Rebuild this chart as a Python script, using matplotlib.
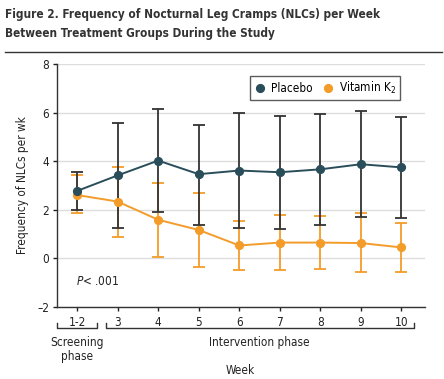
import matplotlib
matplotlib.use("Agg")
import matplotlib.pyplot as plt
from matplotlib.lines import Line2D

weeks = ["1-2", "3", "4", "5", "6", "7", "8", "9", "10"]
placebo_mean = [2.77, 3.41, 4.02, 3.46, 3.61, 3.54, 3.66, 3.87, 3.74]
placebo_hi = [3.55, 5.58, 6.13, 5.50, 5.97, 5.87, 5.95, 6.05, 5.83]
placebo_lo = [2.00, 1.26, 1.88, 1.38, 1.25, 1.22, 1.38, 1.71, 1.65]
vitk_mean = [2.60, 2.33, 1.58, 1.16, 0.52, 0.64, 0.64, 0.62, 0.44]
vitk_hi = [3.43, 3.77, 3.11, 2.70, 1.53, 1.79, 1.73, 1.84, 1.45]
vitk_lo = [1.84, 0.89, 0.05, -0.36, -0.49, -0.49, -0.47, -0.58, -0.56]
yticks = [-2, 0, 2, 4, 6, 8]

plt.rcParams['font.family'] = ["DejaVu Sans"]
plt.rcParams['font.stretch'] = 'condensed'

C_PL = "#2a4d5a"
C_VK = "#f39c2a"
C_ERR = "#333333"
FS = 8.5

fig = plt.figure(figsize=(4.44, 3.79), dpi=100)
ax = fig.add_axes([0.129, 0.191, 0.828, 0.640])

x = list(range(len(weeks)))
err_pl = [[m - l for m, l in zip(placebo_mean, placebo_lo)], [h - m for m, h in zip(placebo_mean, placebo_hi)]]
err_vk = [[m - l for m, l in zip(vitk_mean, vitk_lo)], [h - m for m, h in zip(vitk_mean, vitk_hi)]]

ax.errorbar(x, vitk_mean, yerr=err_vk, fmt='none', ecolor=C_VK, elinewidth=1.3, capsize=4.6, capthick=1.3, zorder=2)
ax.errorbar(x, placebo_mean, yerr=err_pl, fmt='none', ecolor=C_ERR, elinewidth=1.3, capsize=4.6, capthick=1.3, zorder=3)
ax.plot(x, vitk_mean, color=C_VK, lw=1.4, marker='o', ms=5.6, zorder=4)
ax.plot(x, placebo_mean, color=C_PL, lw=1.4, marker='o', ms=5.6, zorder=5)

ax.set_xlim(-0.49, 8.58)
ax.set_ylim(-2, 8)
ax.set_yticks(yticks)
ax.set_yticklabels([str(t) if t >= 0 else "\u2013" + str(-t) for t in yticks])
ax.set_xticks(x)
ax.set_xticklabels(weeks)
ax.yaxis.grid(True, color="#dddddd", lw=1)
ax.set_axisbelow(True)
for s in ["top", "right"]:
    ax.spines[s].set_visible(False)
for s in ["left", "bottom"]:
    ax.spines[s].set_color("#333333")
    ax.spines[s].set_linewidth(1)
ax.tick_params(axis='both', labelsize=FS, colors="#222222", length=3, width=1)
ax.tick_params(axis='y', pad=3)
ax.set_ylabel("Frequency of NLCs per wk", fontsize=FS, color="#222222", labelpad=6)

ax.text(0.5, -0.96, "$\\it{P}$< .001", fontsize=FS, color="#222222", ha='center', va='center')

handles = [Line2D([], [], color=C_PL, marker='o', ls='none', ms=5.6),
           Line2D([], [], color=C_VK, marker='o', ls='none', ms=5.6)]
leg = ax.legend(handles, ["Placebo", "Vitamin K$_2$"], loc='upper right', bbox_to_anchor=(0.932, 0.951),
                borderaxespad=0, ncol=2, fontsize=FS, frameon=True, fancybox=False, edgecolor="#333333",
                handletextpad=0.4, columnspacing=0.8, borderpad=0.35, handlelength=1.0)
leg.get_frame().set_linewidth(1)

def bracket(x0, x1, y, h):
    ax.plot([x0, x0, x1, x1], [y + h, y, y, y + h], color="#333333", lw=1, transform=ax.get_xaxis_transform(), clip_on=False)

bracket(-0.49, 0.48, -0.088, 0.02)
bracket(0.71, 8.31, -0.088, 0.02)
ax.text(0, -0.12, "Screening\nphase", transform=ax.get_xaxis_transform(), ha='center', va='top', fontsize=FS, color="#222222", linespacing=1.15)
ax.text(4.5, -0.12, "Intervention phase", transform=ax.get_xaxis_transform(), ha='center', va='top', fontsize=FS, color="#222222")
ax.text(4.02, -0.265, "Week", transform=ax.get_xaxis_transform(), ha='center', va='center', fontsize=FS, color="#222222")

fig.text(0.011, 0.978, "Figure 2. Frequency of Nocturnal Leg Cramps (NLCs) per Week\nBetween Treatment Groups During the Study",
         ha='left', va='top', fontsize=8.5, fontweight='bold', color="#333333", linespacing=1.55)
fig.add_artist(Line2D([0.011, 0.995], [0.862, 0.862], color="#333333", lw=1, transform=fig.transFigure))

fig.savefig("out.png", dpi=100)
